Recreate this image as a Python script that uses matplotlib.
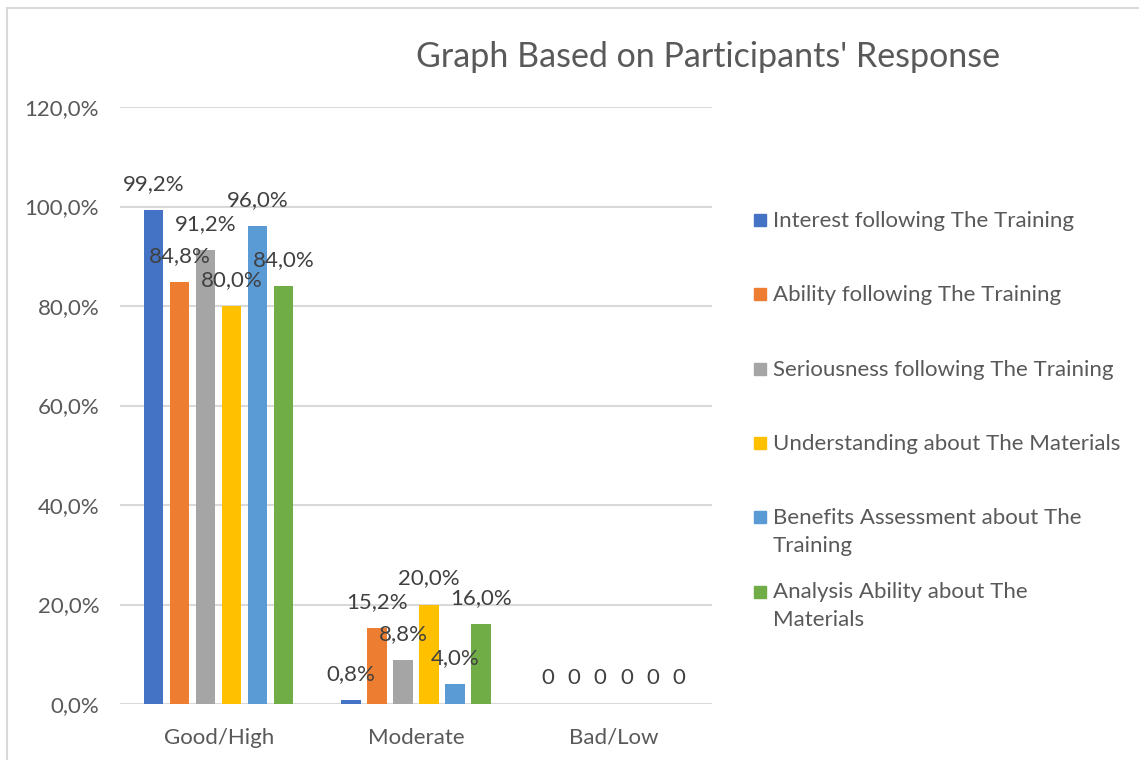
import matplotlib.pyplot as plt
from matplotlib.patches import Rectangle

plt.rcParams['font.family'] = ['Lato', 'DejaVu Sans']

categories = ['Good/High', 'Moderate', 'Bad/Low']
series_names = [
    'Interest following The Training',
    'Ability following The Training',
    'Seriousness following The Training',
    'Understanding about The Materials',
    'Benefits Assessment about The\nTraining',
    'Analysis Ability about The\nMaterials',
]
interest = [99.2, 0.8, 0]
ability = [84.8, 15.2, 0]
seriousness = [91.2, 8.8, 0]
understanding = [80.0, 20.0, 0]
benefits = [96.0, 4.0, 0]
analysis = [84.0, 16.0, 0]
series_values = [interest, ability, seriousness, understanding, benefits, analysis]

colors = ['#4472C4', '#ED7D31', '#A5A5A5', '#FFC000', '#5B9BD5', '#70AD47']
yticks = [0, 20, 40, 60, 80, 100, 120]

def fmt(v):
    if v == 0:
        return '0'
    return ('%.1f%%' % v).replace('.', ',')

fig = plt.figure(figsize=(11.39, 7.6), dpi=100)
ax = fig.add_axes([120 / 1139, 56 / 760, 592 / 1139, 597 / 760])

width = 0.098
step = 0.132
for i, vals in enumerate(series_values):
    xs = [c + (i - 2.5) * step for c in range(len(categories))]
    ax.bar(xs, vals, width=width, color=colors[i], zorder=3)
    for x, v in zip(xs, vals):
        ax.annotate(fmt(v), (x, v), xytext=(0, 26), textcoords='offset pixels',
                    ha='center', va='center', fontsize=16, color='#404040', zorder=4)

ax.set_xlim(-0.5, 2.5)
ax.set_ylim(0, 120)
ax.set_yticks(yticks)
ax.set_yticklabels([fmt(t) if t else '0,0%' for t in yticks])
ax.set_xticks(range(len(categories)))
ax.set_xticklabels(categories)
ax.tick_params(axis='y', length=0, pad=15, labelsize=16, labelcolor='#595959')
ax.tick_params(axis='x', length=0, pad=17, labelsize=16, labelcolor='#595959')
ax.grid(axis='y', color='#D9D9D9', linewidth=1.5, zorder=0)
for s in ax.spines.values():
    s.set_visible(False)

fig.text(708 / 1139, 1 - 57 / 760, "Graph Based on Participants' Response",
         ha='center', va='center', fontsize=24.5, color='#595959')

# legend drawn by hand so two-line entries line up like the original
for i, name in enumerate(series_names):
    yc = 1 - (220 + 74.3 * i) / 760
    fig.add_artist(Rectangle((754 / 1139, yc - 6 / 760), 12 / 1139, 12 / 760,
                             transform=fig.transFigure, color=colors[i]))
    fig.text(773 / 1139, yc + 9 / 760, name, ha='left', va='top', fontsize=16,
             color='#595959', linespacing=1.5)

# chart border
fig.add_artist(Rectangle((7 / 1139, -0.1), 1.2, 1 - 8 / 760 + 0.1,
                         transform=fig.transFigure, fill=False,
                         edgecolor='#D9D9D9', linewidth=1.5))

fig.savefig('out.png', dpi=100)
